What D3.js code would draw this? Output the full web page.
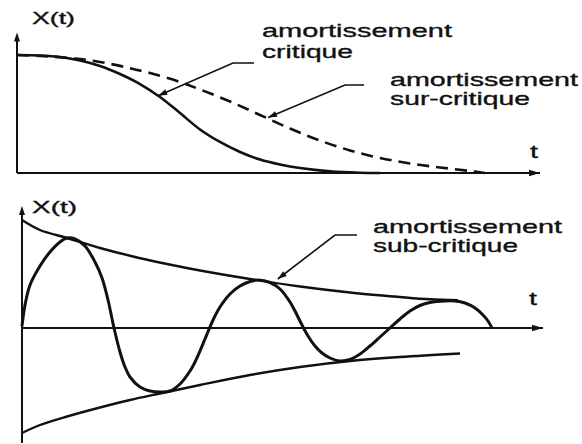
<!DOCTYPE html>
<html>
<head>
<meta charset="utf-8">
<script src="https://cdn.jsdelivr.net/npm/d3@7"></script>
<style>
  html, body { margin: 0; padding: 0; background: #fff; }
  svg { display: block; }
  text { font-family: "Liberation Sans", Arial, sans-serif; fill: #111; stroke: #111; stroke-width: 0.35; }
</style>
</head>
<body>
<svg id="chart" width="582" height="444"></svg>
<script>
// ---------- DATA ----------
// Top panel: time t (arbitrary units) and X(t)
const critT = [0, 0.440, 0.822, 1.205, 1.587, 1.969, 2.352, 2.734, 3.117, 3.499, 3.881, 4.264, 4.646, 5.029, 5.411, 5.985, 6.558, 6.941];
const critX = [1.00, 0.996, 0.983, 0.953, 0.907, 0.839, 0.754, 0.644, 0.508, 0.369, 0.263, 0.178, 0.114, 0.072, 0.042, 0.014, 0.002, 0];
const surT  = [0, 0.440, 1.109, 1.587, 2.065, 2.543, 3.117, 3.499, 4.073, 4.646, 5.220, 5.793, 6.367, 6.941, 7.514, 8.088, 8.662, 8.948];
const surX  = [1.00, 0.992, 0.970, 0.941, 0.898, 0.847, 0.771, 0.708, 0.606, 0.492, 0.377, 0.275, 0.191, 0.127, 0.081, 0.047, 0.017, 0];

// Bottom panel: sub-critical oscillation and its envelopes
const upEnvT = [0, 0.345, 0.864, 1.497, 2.131, 2.783, 3.417, 4.376, 5.336, 6.296, 7.255, 7.831, 8.369];
const upEnvX = [1.08, 0.98, 0.90, 0.80, 0.715, 0.64, 0.575, 0.49, 0.415, 0.355, 0.31, 0.287, 0.277];
const loEnvT = [0, 0.345, 0.864, 1.497, 2.073, 2.649, 3.417, 4.376, 5.336, 6.296, 7.255, 8.407];
const loEnvX = [-1.05, -0.97, -0.885, -0.795, -0.72, -0.655, -0.57, -0.47, -0.39, -0.33, -0.29, -0.255];
const waveT = [0, 0.058, 0.154, 0.345, 0.537, 0.729, 0.864, 1.017, 1.209, 1.401, 1.536, 1.651, 1.766, 1.881, 1.977, 2.073,
               2.265, 2.457, 2.649, 2.841, 3.033, 3.225, 3.321, 3.417, 3.512, 3.608, 3.704, 3.800, 3.992, 4.184, 4.376,
               4.530, 4.760, 4.952, 5.144, 5.259, 5.374, 5.489, 5.624, 5.758, 5.912, 6.104, 6.296, 6.488, 6.679, 6.871,
               7.063, 7.255, 7.447, 7.639, 7.831, 8.119, 8.311, 8.503, 8.695, 8.848, 8.944, 9.021];
const waveX = [0.02, 0.23, 0.43, 0.62, 0.76, 0.86, 0.90, 0.89, 0.82, 0.66, 0.50, 0.28, 0, -0.24, -0.39, -0.49,
               -0.59, -0.63, -0.64, -0.63, -0.56, -0.43, -0.34, -0.23, -0.11, 0.01, 0.12, 0.21, 0.34, 0.42, 0.465,
               0.48, 0.455, 0.39, 0.26, 0.15, 0.03, -0.08, -0.18, -0.25, -0.30, -0.33, -0.315, -0.26, -0.18, -0.09,
               0, 0.09, 0.17, 0.225, 0.255, 0.27, 0.27, 0.25, 0.20, 0.13, 0.07, 0];

// Texts
const axisYLabel = "X(t)";
const axisXLabel = "t";
const labelCrit  = ["amortissement", "critique"];
const labelSur   = ["amortissement", "sur-critique"];
const labelSub   = ["amortissement", "sub-critique"];

// ---------- DRAWING ----------
const svg = d3.select("#chart");
const zip = (a, b) => a.map((v, i) => [v, b[i]]);

// Scales
const xTop = d3.scaleLinear().domain([0, 10]).range([17, 540]);
const yTop = d3.scaleLinear().domain([0, 1]).range([173, 55]);
const xBot = d3.scaleLinear().domain([0, 10]).range([22, 543]);
const yBot = d3.scaleLinear().domain([-1, 1]).range([428, 228]);

const ink = "#111";

function arrowHead(g, x, y, dir, len = 9, half = 3.2) {
  let pts;
  if (dir === "up") pts = [[x, y], [x - half, y + len], [x + half, y + len]];
  else if (dir === "right") pts = [[x, y], [x - len, y - half], [x - len, y + half]];
  else {
    const [dx, dy] = dir; const n = Math.hypot(dx, dy); const ux = dx / n, uy = dy / n;
    const bx = x - ux * len, by = y - uy * len;
    pts = [[x, y], [bx - uy * half, by + ux * half], [bx + uy * half, by - ux * half]];
  }
  g.append("path").attr("d", "M" + pts.map(p => p.join(",")).join("L") + "Z").attr("fill", ink);
}

function label(x, y, txt, w, size) {
  svg.append("text").attr("x", x).attr("y", y).attr("font-size", size)
    .attr("textLength", w).attr("lengthAdjust", "spacingAndGlyphs").text(txt);
}

function axes(xs, ys, yMin, yMax) {
  const g = svg.append("g");
  g.append("line").attr("x1", xs(0)).attr("x2", xs(10)).attr("y1", ys(0)).attr("y2", ys(0))
    .attr("stroke", ink).attr("stroke-width", 2);
  g.append("line").attr("x1", xs(0)).attr("x2", xs(0)).attr("y1", ys(yMin)).attr("y2", ys(yMax) + 4)
    .attr("stroke", ink).attr("stroke-width", 2);
  arrowHead(g, xs(10), ys(0), "right", 11, 3.2);
  arrowHead(g, xs(0), ys(yMax), "up", 9, 3);
}

function leader(pts) {
  const g = svg.append("g");
  g.append("path").attr("d", d3.line()(pts)).attr("fill", "none").attr("stroke", ink).attr("stroke-width", 1.6);
  const a = pts[0], b = pts[1];
  arrowHead(g, a[0], a[1], [a[0] - b[0], a[1] - b[1]], 9, 3);
}

// ---- Top panel ----
axes(xTop, yTop, 0, 1.19);
const lineTop = d3.line().x(d => xTop(d[0])).y(d => yTop(d[1])).curve(d3.curveCatmullRom.alpha(0.5));
svg.append("path").attr("d", lineTop(zip(critT, critX))).attr("fill", "none")
  .attr("stroke", ink).attr("stroke-width", 2.6);
svg.append("path").attr("d", lineTop(zip(surT, surX))).attr("fill", "none")
  .attr("stroke", ink).attr("stroke-width", 2.6).attr("stroke-dasharray", "12,7");

label(32, 24, axisYLabel, 43, 17);
label(530, 158, axisXLabel, 8, 19);
label(262, 37, labelCrit[0], 190, 19);
label(262, 58, labelCrit[1], 91, 19);
label(390, 86, labelSur[0], 188, 19);
label(390, 105, labelSur[1], 140, 19);

leader([[xTop(2.70), yTop(0.655)], [233, 63], [254, 63]]);
leader([[xTop(4.80), yTop(0.47)], [345, 85], [364, 85]]);

// ---- Bottom panel ----
axes(xBot, yBot, -1.15, 1.22);
const lineBot = d3.line().x(d => xBot(d[0])).y(d => yBot(d[1])).curve(d3.curveCatmullRom.alpha(0.5));
svg.append("path").attr("d", lineBot(zip(upEnvT, upEnvX))).attr("fill", "none")
  .attr("stroke", ink).attr("stroke-width", 2.4);
svg.append("path").attr("d", lineBot(zip(loEnvT, loEnvX))).attr("fill", "none")
  .attr("stroke", ink).attr("stroke-width", 2.4);
svg.append("path").attr("d", lineBot(zip(waveT, waveX))).attr("fill", "none")
  .attr("stroke", ink).attr("stroke-width", 3);

label(32, 213, axisYLabel, 45, 17);
label(529, 305, axisXLabel, 8, 19);
label(373, 233, labelSub[0], 189, 19);
label(373, 252, labelSub[1], 145, 19);

leader([[xBot(4.91), yBot(0.49)], [335, 235], [357, 235]]);
</script>
</body>
</html>
